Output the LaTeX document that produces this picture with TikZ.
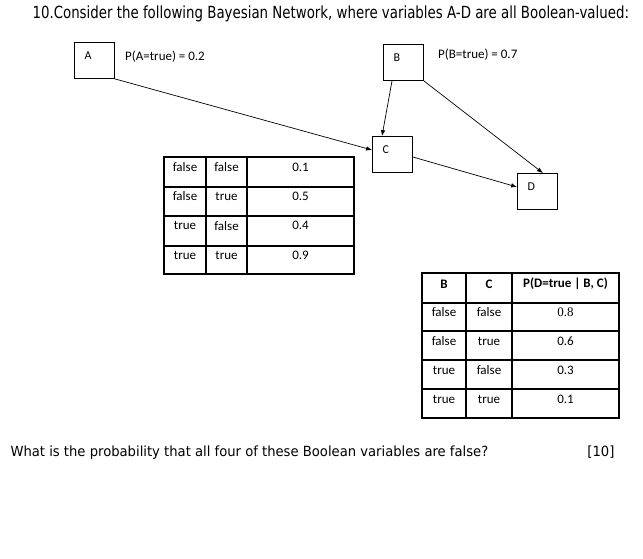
\documentclass[tikz,border=0pt]{standalone}
\usepackage{fontspec}
\setmainfont{Carlito}
\newfontfamily\qfont[FakeStretch=0.8]{DejaVu Sans}
\newfontfamily\askfont[FakeStretch=0.94]{DejaVu Sans}
\newfontfamily\oddfont{Liberation Serif}
\usetikzlibrary{arrows.meta}
\tikzset{
  varbox/.style={draw, line width=0.8pt, minimum width=40pt, minimum height=36pt,
    inner sep=0pt, text width=20pt, align=left, text height=7.5pt, text depth=10pt,
    font=\fontsize{12}{14}\selectfont},
  cell/.style={inner sep=0pt, font=\fontsize{13}{15}\selectfont},
  head/.style={cell, font=\bfseries\fontsize{13}{15}\selectfont},
  tbl/.style={line width=1.1pt},
  dep/.style={-{Latex[length=6pt,width=4.5pt]}, line width=0.7pt},
}
\begin{document}
\begin{tikzpicture}[x=1pt,y=-1pt]
  \useasboundingbox (0,0) rectangle (643,558);
  \node[anchor=base west, font=\qfont\fontsize{16.7}{19}\selectfont] (title) at (29,18)
    {10.Consider the following Bayesian Network, where variables A-D are all Boolean-valued:};
  % the network
  \node[varbox] (A) at (94.5,60.5) {A};
  \node[varbox] (B) at (403.5,62.5) {B};
  \node[varbox] (C) at (392.5,154.5) {C};
  \node[varbox] (D) at (537.5,191.5) {D};
  \node[cell, anchor=west] (pa) at (125,57) {P(A=true) = 0.2};
  \node[cell, anchor=west] (pb) at (438,55) {P(B=true) = 0.7};
  \draw[dep] (A.south east) -- ([yshift=4.5pt]C.west);
  \draw[dep] ([xshift=-11.5pt]B.south) -- ([xshift=-10.5pt]C.north);
  \draw[dep] (B.south east) -- ([xshift=5.5pt]D.north);
  \draw[dep] ([yshift=-2.5pt]C.east) -- ([yshift=4.5pt]D.west);
  % table for C
  \draw[tbl] (164,157) rectangle (354,274);
  \draw[tbl] (206,157) -- (206,274) (247,157) -- (247,274);
  \draw[tbl] (164,187) -- (354,187) (164,216) -- (354,216) (164,246) -- (354,246);
  \foreach \a/\b/\p [count=\i] in {false/false/0.1, false/true/0.5, true/false/0.4, true/true/0.9}{
    \pgfmathsetmacro{\ty}{167+29.4*(\i-1)}
    \node[cell] (ta-\i-1) at (185,\ty) {\a};
    \node[cell] (ta-\i-2) at (226.5,\ty) {\b};
    \node[cell] (ta-\i-3) at (300.5,\ty) {\p};
  }
  % table for D
  \draw[tbl] (422,273) rectangle (619,418);
  \draw[tbl] (466,273) -- (466,418) (512,273) -- (512,418);
  \draw[tbl] (422,303) -- (619,303) (422,331) -- (619,331) (422,360) -- (619,360) (422,389) -- (619,389);
  \node[head] (tb-0-1) at (444,284) {B};
  \node[head] (tb-0-2) at (489,284) {C};
  \node[head] (tb-0-3) at (565.5,284) {P(D=true | B, C)};
  \foreach \b/\c/\p [count=\i] in {false/false/{\oddfont 0.8}, false/true/0.6, true/false/0.3, true/true/0.1}{
    \pgfmathsetmacro{\ty}{312+29*(\i-1)}
    \node[cell] (tb-\i-1) at (444,\ty) {\b};
    \node[cell] (tb-\i-2) at (489,\ty) {\c};
    \node[cell] (tb-\i-3) at (565.5,\ty) {\p};
  }
  \node[anchor=base west, font=\askfont\fontsize{14}{16}\selectfont] (question) at (7,456)
    {What is the probability that all four of these Boolean variables are false?};
  \node[anchor=base east, font=\askfont\fontsize{14}{16}\selectfont] (marks) at (618,456) {[10]};
\end{tikzpicture}
\end{document}
